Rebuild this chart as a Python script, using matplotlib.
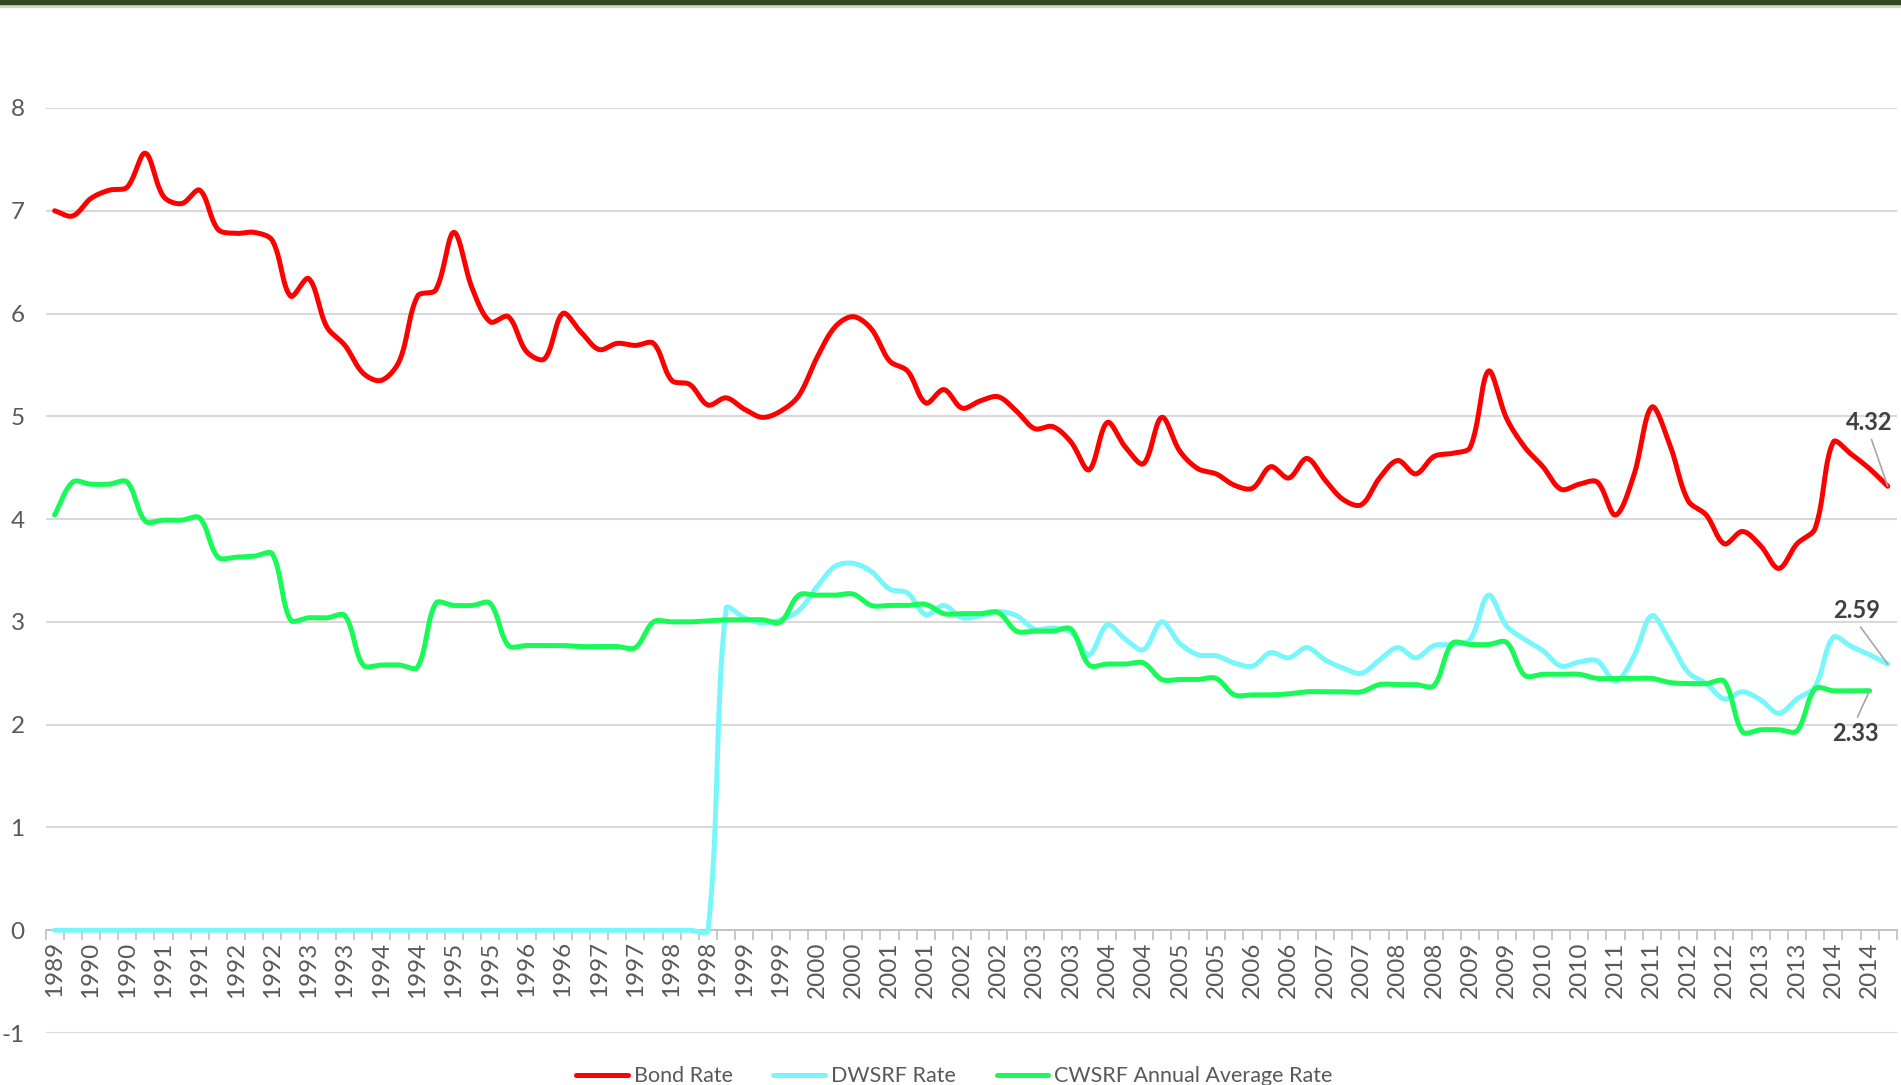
"""
Bond rate vs. DWSRF / CWSRF rates, quarterly 1989-2014.
"""
import numpy as np
import matplotlib
matplotlib.use("Agg")
import matplotlib.pyplot as plt
from matplotlib.patches import Rectangle

plt.rcParams["font.family"] = ["Lato", "DejaVu Sans"]
plt.rcParams["axes.unicode_minus"] = False  # plain hyphen on "-1", like the source

# quarterly categories, label shown on every other one
year_labels = ["1989", "1990", "1990", "1991", "1991", "1992", "1992", "1993", "1993",
               "1994", "1994", "1995", "1995", "1996", "1996", "1997", "1997", "1998",
               "1998", "1999", "1999", "2000", "2000", "2001", "2001", "2002", "2002",
               "2003", "2003", "2004", "2004", "2005", "2005", "2006", "2006", "2007",
               "2007", "2008", "2008", "2009", "2009", "2010", "2010", "2011", "2011",
               "2012", "2012", "2013", "2013", "2014", "2014"]
n_categories = 102

bond_rate = [7.00, 6.95, 7.12, 7.20, 7.23, 7.56, 7.14, 7.07, 7.20, 6.82,
             6.78, 6.79, 6.71, 6.17, 6.34, 5.87, 5.69, 5.42, 5.35, 5.54,
             6.17, 6.23, 6.79, 6.25, 5.92, 5.97, 5.63, 5.56, 6.00, 5.82,
             5.65, 5.71, 5.69, 5.71, 5.35, 5.31, 5.11, 5.18, 5.07, 4.99,
             5.05, 5.20, 5.57, 5.87, 5.97, 5.85, 5.54, 5.44, 5.13, 5.26,
             5.08, 5.15, 5.19, 5.05, 4.88, 4.90, 4.75, 4.48, 4.94, 4.70,
             4.54, 4.99, 4.66, 4.49, 4.44, 4.33, 4.30, 4.51, 4.40, 4.59,
             4.38, 4.19, 4.14, 4.40, 4.57, 4.44, 4.61, 4.64, 4.70, 5.44,
             4.98, 4.70, 4.51, 4.29, 4.34, 4.36, 4.04, 4.42, 5.09, 4.72,
             4.18, 4.04, 3.76, 3.88, 3.74, 3.52, 3.76, 3.91, 4.75, 4.63,
             4.49, 4.32]

dwsrf_rate = [0.0] * 37 + [
             3.13, 3.04, 2.99, 3.02, 3.11, 3.34, 3.54, 3.57, 3.49, 3.32,
             3.28, 3.07, 3.16, 3.04, 3.06, 3.10, 3.06, 2.93, 2.94, 2.90,
             2.68, 2.97, 2.83, 2.73, 3.00, 2.79, 2.68, 2.67, 2.60, 2.57,
             2.70, 2.65, 2.75, 2.63, 2.55, 2.50, 2.63, 2.75, 2.65, 2.77,
             2.78, 2.83, 3.26, 2.96, 2.83, 2.72, 2.57, 2.61, 2.62, 2.42,
             2.66, 3.06, 2.81, 2.51, 2.40, 2.25, 2.32, 2.24, 2.11, 2.25,
             2.37, 2.85, 2.76, 2.68, 2.59]

cwsrf_rate = [4.04, 4.36, 4.34, 4.34, 4.36, 3.98, 3.99, 3.99, 4.01, 3.63,
              3.63, 3.64, 3.66, 3.02, 3.04, 3.04, 3.06, 2.58, 2.58, 2.58,
              2.56, 3.18, 3.16, 3.16, 3.18, 2.77, 2.77, 2.77, 2.77, 2.76,
              2.76, 2.76, 2.75, 3.00, 3.00, 3.00, 3.01, 3.02, 3.02, 3.02,
              3.00, 3.26, 3.26, 3.26, 3.27, 3.16, 3.16, 3.16, 3.17, 3.08,
              3.08, 3.08, 3.09, 2.91, 2.91, 2.91, 2.93, 2.58, 2.59, 2.59,
              2.60, 2.44, 2.44, 2.44, 2.45, 2.29, 2.29, 2.29, 2.30, 2.32,
              2.32, 2.32, 2.32, 2.39, 2.39, 2.39, 2.38, 2.79, 2.78, 2.78,
              2.80, 2.48, 2.49, 2.49, 2.49, 2.45, 2.45, 2.45, 2.45, 2.41,
              2.40, 2.40, 2.42, 1.93, 1.95, 1.95, 1.94, 2.35, 2.33, 2.33,
              2.33]

series_names = ["Bond Rate", "DWSRF Rate", "CWSRF Annual Average Rate"]
series_colors = ["#FF0000", "#77F7FB", "#17FA57"]

TEXT_GREY = "#595959"
GRID_GREY = "#D9D9D9"

W, H = 1901, 1085
AX_W_PX, AX_H_PX = 1851.3, 925.0
# screen pixels per data unit, so the smoothing behaves like it does on screen
X_SCALE = AX_W_PX / n_categories
Y_SCALE = AX_H_PX / 9.0


def smooth(values, steps=24):
    """Excel-like smoothed line: Bezier through every point,
    handle lengths split in proportion to the neighbouring segment lengths."""
    pts = np.column_stack([np.arange(len(values)) * X_SCALE,
                           np.asarray(values, float) * Y_SCALE])
    padded = np.vstack([pts[0], pts, pts[-1]])
    t = np.linspace(0, 1, steps)[:, None]
    out = []
    for k in range(len(pts) - 1):
        p0, p1, p2, p3 = padded[k], padded[k + 1], padded[k + 2], padded[k + 3]
        d01 = np.hypot(*(p1 - p0))
        d12 = np.hypot(*(p2 - p1))
        d23 = np.hypot(*(p3 - p2))
        f1 = d12 / (d01 + d12) if d01 + d12 > 0 else 0.5
        f2 = d12 / (d12 + d23) if d12 + d23 > 0 else 0.5
        c1 = p1 + (p2 - p0) * f1 / 3
        c2 = p2 - (p3 - p1) * f2 / 3
        seg = ((1 - t) ** 3) * p1 + 3 * ((1 - t) ** 2) * t * c1 + 3 * (1 - t) * t ** 2 * c2 + t ** 3 * p2
        out.append(seg if k == 0 else seg[1:])
    curve = np.vstack(out)
    return curve[:, 0] / X_SCALE, curve[:, 1] / Y_SCALE


fig = plt.figure(figsize=(W / 100, H / 100), dpi=100)
ax = fig.add_axes([45.5 / W, 52 / H, AX_W_PX / W, AX_H_PX / H])

for values, color, name in zip([bond_rate, dwsrf_rate, cwsrf_rate], series_colors, series_names):
    cx, cy = smooth(values)
    ax.plot(cx, cy, color=color, lw=3.6, label=name,
            solid_capstyle="round", solid_joinstyle="round", zorder=3)

ax.set_xlim(-0.5, n_categories - 0.5)
ax.set_ylim(-1, 8)
ax.set_yticks(range(-1, 9))
ax.grid(axis="y", color=GRID_GREY, lw=1.5, zorder=0)
ax.grid(axis="x", visible=False)

for side in ["left", "right", "top"]:
    ax.spines[side].set_visible(False)
ax.spines["bottom"].set_position(("data", 0))
ax.spines["bottom"].set_color("#BFBFBF")
ax.spines["bottom"].set_linewidth(1.2)

ax.set_xticks(np.arange(0, n_categories, 2))
ax.set_xticklabels(year_labels, rotation=90)
ax.set_xticks(np.arange(-0.5, n_categories, 1), minor=True)
ax.tick_params(axis="x", which="major", length=0, pad=8, labelsize=17.5, labelcolor=TEXT_GREY)
ax.tick_params(axis="x", which="minor", length=7, width=1.2, color="#BFBFBF")
ax.tick_params(axis="y", length=0, pad=15, labelsize=17.5, labelcolor=TEXT_GREY)

# data labels on the last points
label_style = dict(fontsize=17, fontweight="bold", color="#404040", ha="center")
leader = dict(arrowstyle="-", color="#A6A6A6", lw=1.2, shrinkA=2, shrinkB=0)
ax.annotate(f"{bond_rate[-1]:.2f}", xy=(len(bond_rate) - 1, bond_rate[-1]),
            xytext=(100.0, 4.94), va="center",
            arrowprops=dict(leader, relpos=(0.5, 0.0)), **label_style)
ax.annotate(f"{dwsrf_rate[-1]:.2f}", xy=(len(dwsrf_rate) - 1, dwsrf_rate[-1]),
            xytext=(99.3, 3.11), va="center",
            arrowprops=dict(leader, relpos=(0.5, 0.0)), **label_style)
ax.annotate(f"{cwsrf_rate[-1]:.2f}", xy=(len(cwsrf_rate) - 1, cwsrf_rate[-1]),
            xytext=(99.2, 1.91), va="center",
            arrowprops=dict(leader, relpos=(0.5, 1.0)), **label_style)

fig.legend(loc="center", bbox_to_anchor=(0.502, 0.008), ncol=3, frameon=False,
           fontsize=15.5, labelcolor=TEXT_GREY, handlelength=2.4,
           handletextpad=0.27, columnspacing=1.9)

# dark green band across the top edge
fig.patches.append(Rectangle((0, 1 - 7 / H), 1, 7 / H, transform=fig.transFigure,
                             color="#D0D4CC", zorder=0))
fig.patches.append(Rectangle((0, 1 - 4 / H), 1, 4 / H, transform=fig.transFigure,
                             color="#2E4A1E", zorder=1))

fig.savefig("out.png", dpi=100)
plt.close(fig)
